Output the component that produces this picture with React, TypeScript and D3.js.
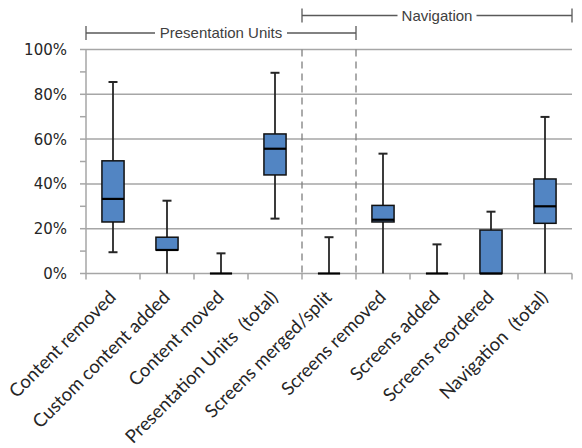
import React from "react";
import * as d3 from "d3";

const categories = [
  "Content removed",
  "Custom content added",
  "Content moved",
  "Presentation Units  (total)",
  "Screens merged/split",
  "Screens removed",
  "Screens added",
  "Screens reordered",
  "Navigation  (total)",
];
const whiskerMin = [9.5, 0, 0, 24.5, 0, 0, 0, 0, 0];
const quartile1 = [23, 10.5, 0, 44, 0, 23, 0, 0, 22.4];
const medians = [33.3, 10.5, 0, 55.7, 0, 24, 0, 0, 30];
const quartile3 = [50.3, 16.2, 0, 62.3, 0, 30.4, 0, 19.4, 42.2];
const whiskerMax = [85.5, 32.5, 9, 89.6, 16.2, 53.5, 13, 27.6, 69.9];
const yTicks = [0, 20, 40, 60, 80, 100];
const yMinorTicks = [0, 10, 20, 30, 40, 50, 60, 70, 80, 90, 100];
const groups = [
  { label: "Presentation Units", from: 0, to: 4, level: 0 },
  { label: "Navigation", from: 4, to: 8, level: 1 },
];
const dividers = [4];

const W = 582;
const H = 448;
const left = 86;
const right = 572;
const top = 49.5;
const bottom = 273.5;

export default function App() {
  const x = d3.scaleBand<string>().domain(categories).range([left, right]);
  const y = d3.scaleLinear().domain([0, 100]).range([bottom, top]);
  const bw = x.bandwidth();
  const boxW = bw * 0.41;
  const capW = 9;
  const grid = "#a6a6a6";

  const boundaries = d3.range(categories.length + 1).map((i) => left + i * bw);

  return (
    <svg
      width={W}
      height={H}
      style={{ position: "fixed", left: 0, top: 0, background: "#fff" }}
    >
      {/* gridlines */}
      {yTicks.map((t) => (
        <line key={"g" + t} x1={left} x2={right} y1={y(t)} y2={y(t)} stroke={grid} strokeWidth={1.5} />
      ))}
      {/* y minor ticks */}
      {yMinorTicks.map((t) => (
        <line key={"m" + t} x1={left - 6} x2={left} y1={y(t)} y2={y(t)} stroke={grid} strokeWidth={1.5} />
      ))}
      {/* y axis */}
      <line x1={left} x2={left} y1={top} y2={bottom} stroke={grid} strokeWidth={1.5} />
      {/* x ticks */}
      {boundaries.map((b, i) => (
        <line key={"xt" + i} x1={b} x2={b} y1={bottom} y2={bottom + 6} stroke={grid} strokeWidth={1.5} />
      ))}
      {/* dividers */}
      {dividers.map((d) => (
        <g key={"d" + d}>
          <line x1={x(categories[d])!} x2={x(categories[d])!} y1={top} y2={bottom} stroke="#7f7f7f" strokeWidth={1.3} strokeDasharray="7,5" />
          <line x1={x(categories[d])! + bw} x2={x(categories[d])! + bw} y1={top} y2={bottom} stroke="#7f7f7f" strokeWidth={1.3} strokeDasharray="7,5" />
        </g>
      ))}
      {/* y labels */}
      {yTicks.map((t) => (
        <text
          key={"yl" + t}
          x={67}
          y={y(t)}
          dy="0.36em"
          textAnchor="end"
          fontFamily="DejaVu Sans"
          fontSize={15}
          fill="#262626"
        >
          {t}%
        </text>
      ))}
      {/* boxes */}
      {categories.map((c, i) => {
        const cx = x(c)! + bw / 2;
        return (
          <g key={"b" + i}>
            <line x1={cx} x2={cx} y1={y(whiskerMax[i])} y2={y(quartile3[i])} stroke="#262626" strokeWidth={1.8} />
            <line x1={cx - capW / 2} x2={cx + capW / 2} y1={y(whiskerMax[i])} y2={y(whiskerMax[i])} stroke="#262626" strokeWidth={2} />
            <line x1={cx} x2={cx} y1={y(quartile1[i])} y2={y(whiskerMin[i])} stroke="#262626" strokeWidth={1.8} />
            {whiskerMin[i] > 0 && (
              <line x1={cx - capW / 2} x2={cx + capW / 2} y1={y(whiskerMin[i])} y2={y(whiskerMin[i])} stroke="#262626" strokeWidth={2} />
            )}
            <rect
              x={cx - boxW / 2}
              y={y(quartile3[i])}
              width={boxW}
              height={y(quartile1[i]) - y(quartile3[i])}
              fill="#5285c3"
              stroke="#111"
              strokeWidth={1.5}
            />
            <line x1={cx - boxW / 2} x2={cx + boxW / 2} y1={y(medians[i])} y2={y(medians[i])} stroke="#000" strokeWidth={2.2} />
          </g>
        );
      })}
      {/* x labels */}
      {categories.map((c, i) => {
        const cx = x(c)! + bw / 2 + 4;
        const ly = bottom + 25;
        return (
          <text
            key={"xl" + i}
            transform={`translate(${cx},${ly}) rotate(-45)`}
            textAnchor="end"
            fontFamily="Lato"
            fontSize={18.5}
            fill="#262626"
            style={{ whiteSpace: "pre" }}
          >
            {c}
          </text>
        );
      })}
      {/* group brackets */}
      {groups.map((g) => {
        const x0 = x(categories[g.from])!;
        const x1 = x(categories[g.to])! + bw;
        const gy = g.level === 0 ? 33 : 15.5;
        const mid = (x0 + x1) / 2;
        const tw = g.label === "Navigation" ? 71 : 124;
        const gap = 4;
        return (
          <g key={g.label}>
            <line x1={x0} x2={mid - tw / 2 - gap} y1={gy} y2={gy} stroke="#595959" strokeWidth={1.3} />
            <line x1={mid + tw / 2 + gap} x2={x1} y1={gy} y2={gy} stroke="#595959" strokeWidth={1.3} />
            <line x1={x0} x2={x0} y1={gy - 7} y2={gy + 7} stroke="#595959" strokeWidth={1.3} />
            <line x1={x1} x2={x1} y1={gy - 7} y2={gy + 7} stroke="#595959" strokeWidth={1.3} />
            <text x={mid} y={gy} dy="0.36em" textAnchor="middle" fontFamily="Liberation Sans" fontSize={15} fill="#404040">
              {g.label}
            </text>
          </g>
        );
      })}
    </svg>
  );
}
